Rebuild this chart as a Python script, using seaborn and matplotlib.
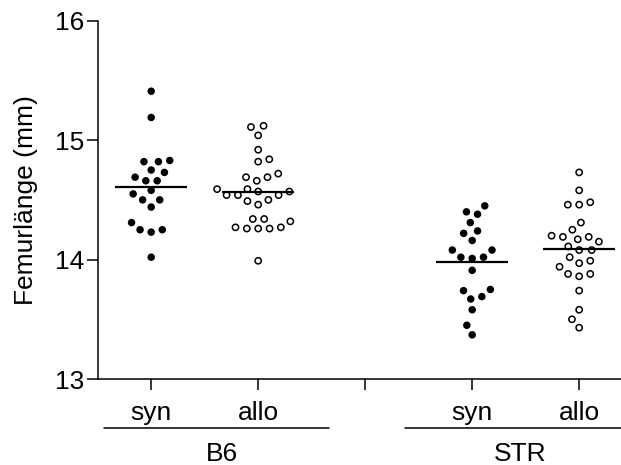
import numpy as np
import pandas as pd
import matplotlib
matplotlib.use("Agg")
import matplotlib.pyplot as plt
import matplotlib.transforms as mtransforms
from matplotlib.path import Path
from matplotlib.markers import MarkerStyle
import seaborn as sns

# ---------------- data ----------------
categories = ["B6 syn", "B6 allo", "gap", "STR syn", "STR allo"]
tick_labels = ["syn", "allo", "", "syn", "allo"]
group_names = ["B6", "STR"]

b6_syn = [15.41, 15.19, 14.83, 14.82, 14.82, 14.75, 14.73, 14.69, 14.66, 14.66,
          14.58, 14.55, 14.50, 14.50, 14.44, 14.31, 14.25, 14.23, 14.25, 14.02]
b6_allo = [15.11, 15.12, 15.04, 14.92, 14.84, 14.82, 14.72, 14.69, 14.69, 14.66,
           14.59, 14.57, 14.57, 14.59, 14.54, 14.54, 14.54, 14.50, 14.49, 14.46,
           14.34, 14.32, 14.27, 14.26, 14.26, 14.26, 14.27, 14.34, 13.99]
str_syn = [14.40, 14.45, 14.38, 14.31, 14.22, 14.24, 14.16, 14.08, 14.02, 14.01,
           14.02, 14.08, 13.91, 13.74, 13.67, 13.69, 13.75, 13.58, 13.45, 13.37]
str_allo = [14.73, 14.58, 14.48, 14.46, 14.46, 14.31, 14.25, 14.20, 14.17, 14.19,
            14.19, 14.15, 14.11, 14.08, 14.08, 14.02, 13.97, 13.99, 13.94, 13.88,
            13.86, 13.88, 13.74, 13.58, 13.50, 13.43]

syn_df = pd.DataFrame({
    "group": ["B6 syn"] * len(b6_syn) + ["STR syn"] * len(str_syn),
    "value": b6_syn + str_syn,
})
allo_df = pd.DataFrame({
    "group": ["B6 allo"] * len(b6_allo) + ["STR allo"] * len(str_allo),
    "value": b6_allo + str_allo,
})
all_df = pd.concat([syn_df, allo_df], ignore_index=True)

# ---------------- style ----------------
sns.set_style("ticks")
plt.rcParams["font.family"] = ["Liberation Sans", "DejaVu Sans"]
plt.rcParams["text.color"] = "black"
plt.rcParams["axes.labelcolor"] = "black"
plt.rcParams["axes.edgecolor"] = "black"
plt.rcParams["xtick.color"] = "black"
plt.rcParams["ytick.color"] = "black"
FS = 19

fig = plt.figure(figsize=(6.21, 4.65), dpi=100)
ax = fig.add_axes([0.1573, 0.1849, 0.8615, 0.7705])

# ring marker for the open circles
theta = np.linspace(0, 2 * np.pi, 65)
outer = np.c_[np.cos(theta), np.sin(theta)]
inner = outer[::-1] * 0.60
verts = np.concatenate([outer, inner])
codes = ([Path.MOVETO] + [Path.LINETO] * 63 + [Path.CLOSEPOLY]) * 2
ring = MarkerStyle(Path(verts, codes))

sns.swarmplot(data=syn_df, x="group", y="value", order=categories,
              color="black", size=5.4, edgecolor="none", linewidth=2.4, ax=ax)
sns.swarmplot(data=allo_df, x="group", y="value", order=categories,
              color="black", size=5.6, marker=ring, edgecolor="none",
              linewidth=2.2, ax=ax)
sns.pointplot(data=all_df, x="group", y="value", order=categories,
              estimator="mean", errorbar=None, color="black",
              linestyle="none", marker="_", markersize=52,
              markeredgewidth=1.6, ax=ax)

# ---------------- axes ----------------
ax.set_ylim(13, 16)
ax.set_yticks([13, 14, 15, 16])
ax.set_xlim(-0.5, 4.5)
ax.set_xticks(range(len(categories)))
ax.set_xticklabels(tick_labels)
ax.set_xlabel("")
ax.set_ylabel("Femurlänge (mm)", fontsize=FS, labelpad=12, color="black")
for s in ["top", "right"]:
    ax.spines[s].set_visible(False)
for s in ["left", "bottom"]:
    ax.spines[s].set_linewidth(1.1)
    ax.spines[s].set_color("black")
ax.tick_params(axis="both", direction="out", length=8, width=1.1,
               labelsize=FS, colors="black")
ax.tick_params(axis="y", pad=2)
ax.tick_params(axis="x", pad=8)

# group brackets
trans = mtransforms.blended_transform_factory(ax.transData, ax.transAxes)
group_spans = [(-0.44, 1.66), (2.37, 4.6)]
group_centers = [0.66, 3.45]
for name, (x0, x1), xc in zip(group_names, group_spans, group_centers):
    ax.plot([x0, x1], [-0.137, -0.137], color="black", lw=1.1,
            transform=trans, clip_on=False)
    ax.text(xc, -0.21, name, transform=trans, ha="center", va="center",
            fontsize=FS, color="black")

fig.savefig("out.png", dpi=100)
